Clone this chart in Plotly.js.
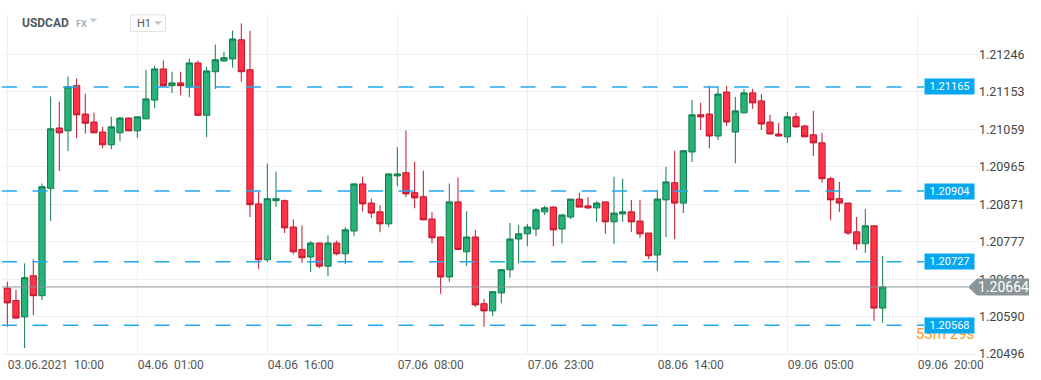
<!DOCTYPE html>
<html><head><meta charset="utf-8">
<script src="https://cdn.plot.ly/plotly-3.0.1.min.js"></script>
<style>html,body{margin:0;padding:0;background:#fff}#chart{width:1041px;height:380px}</style>
</head><body><div id="chart"></div>
<script>
// USDCAD H1 candles, 03.06.2021 10:00 .. 09.06.2021 16:00
const openP = [1.20661,1.20630,1.20589,1.20692,1.20642,1.20911,1.21062,1.21055,1.21168,1.21097,
1.21077,1.21052,1.21020,1.21050,1.21087,1.21055,1.21085,1.21132,1.21210,1.21168,
1.21175,1.21165,1.21225,1.21094,1.21203,1.21230,1.21235,1.21283,1.21208,1.20872,
1.20732,1.20880,1.20880,1.20814,1.20758,1.20739,1.20774,1.20716,1.20774,1.20747,
1.20804,1.20922,1.20874,1.20852,1.20822,1.20942,1.20950,1.20900,1.20890,1.20834,
1.20789,1.20689,1.20877,1.20752,1.20789,1.20622,1.20604,1.20649,1.20707,1.20784,
1.20797,1.20809,1.20852,1.20864,1.20809,1.20839,1.20884,1.20867,1.20862,1.20877,
1.20827,1.20847,1.20852,1.20829,1.20799,1.20744,1.20882,1.20925,1.20874,1.21002,
1.21095,1.21097,1.21042,1.21152,1.21052,1.21100,1.21150,1.21130,1.21077,1.21047,
1.21040,1.21090,1.21067,1.21045,1.21025,1.20935,1.20885,1.20874,1.20802,1.20772,
1.20817,1.20611];
const highP = [1.20677,1.20657,1.20723,1.20733,1.20923,1.21141,1.21128,1.21191,1.21186,1.21148,
1.21101,1.21065,1.21090,1.21090,1.21088,1.21090,1.21208,1.21218,1.21231,1.21203,
1.21203,1.21236,1.21231,1.21216,1.21271,1.21253,1.21306,1.21324,1.21306,1.20902,
1.20973,1.20953,1.20883,1.20833,1.20818,1.20778,1.20775,1.20793,1.20780,1.20814,
1.20923,1.20940,1.20885,1.20869,1.20948,1.21014,1.21056,1.20978,1.20955,1.20851,
1.20790,1.20923,1.20938,1.20853,1.20807,1.20634,1.20653,1.20707,1.20824,1.20819,
1.20822,1.20862,1.20867,1.20867,1.20847,1.20884,1.20900,1.20889,1.20879,1.20877,
1.20940,1.20935,1.20882,1.20882,1.20799,1.20907,1.20965,1.21005,1.21007,1.21132,
1.21125,1.21168,1.21165,1.21168,1.21140,1.21160,1.21160,1.21147,1.21095,1.21075,
1.21102,1.21100,1.21070,1.21105,1.21050,1.20940,1.20927,1.20875,1.20839,1.20859,
1.20818,1.20742];
const lowP = [1.20564,1.20584,1.20511,1.20593,1.20631,1.20829,1.20954,1.21004,1.21036,1.21048,
1.21049,1.21011,1.21009,1.21029,1.21054,1.21037,1.21084,1.21112,1.21165,1.21150,
1.21144,1.21139,1.21092,1.21039,1.21160,1.21228,1.21213,1.21178,1.20839,1.20709,
1.20726,1.20864,1.20799,1.20746,1.20724,1.20701,1.20711,1.20691,1.20743,1.20721,
1.20791,1.20853,1.20836,1.20801,1.20814,1.20916,1.20889,1.20861,1.20831,1.20773,
1.20647,1.20677,1.20757,1.20716,1.20614,1.20564,1.20591,1.20623,1.20687,1.20724,
1.20766,1.20791,1.20844,1.20766,1.20773,1.20834,1.20864,1.20859,1.20827,1.20797,
1.20772,1.20827,1.20802,1.20787,1.20734,1.20704,1.20789,1.20784,1.20849,1.20977,
1.21057,1.21011,1.21032,1.21067,1.20974,1.21099,1.21110,1.21057,1.21046,1.21041,
1.21025,1.21062,1.21039,1.20992,1.20925,1.20831,1.20852,1.20794,1.20757,1.20749,
1.20579,1.20574];
const closeP = [1.20624,1.20586,1.20687,1.20642,1.20915,1.21060,1.21050,1.21165,1.21095,1.21074,
1.21050,1.21020,1.21065,1.21087,1.21055,1.21090,1.21135,1.21210,1.21168,1.21175,
1.21168,1.21225,1.21094,1.21205,1.21233,1.21238,1.21285,1.21203,1.20870,1.20732,
1.20885,1.20885,1.20812,1.20752,1.20737,1.20774,1.20716,1.20774,1.20747,1.20807,
1.20922,1.20872,1.20849,1.20822,1.20947,1.20947,1.20897,1.20887,1.20832,1.20787,
1.20689,1.20877,1.20758,1.20789,1.20619,1.20604,1.20652,1.20707,1.20784,1.20797,
1.20814,1.20857,1.20862,1.20807,1.20844,1.20884,1.20864,1.20862,1.20874,1.20827,
1.20849,1.20852,1.20827,1.20797,1.20742,1.20884,1.20927,1.20874,1.21005,1.21095,
1.21090,1.21042,1.21147,1.21077,1.21105,1.21150,1.21125,1.21072,1.21047,1.21042,
1.21090,1.21065,1.21040,1.21025,1.20935,1.20882,1.20874,1.20799,1.20772,1.20817,
1.20611,1.20664];

const xTickIdx = [0, 15, 30, 45, 60, 75, 90, 105];
const xTickLabels = ['03.06.2021\u00a0\u00a010:00','04.06\u00a0\u00a001:00','04.06\u00a0\u00a016:00','07.06\u00a0\u00a008:00',
                     '07.06\u00a0\u00a023:00','08.06\u00a0\u00a014:00','09.06\u00a0\u00a005:00','09.06\u00a0\u00a020:00'];
const yTickVals = [1.21246, 1.21153, 1.21059, 1.20965, 1.20871, 1.20777, 1.20683, 1.20590, 1.20496];
const levels = [1.21165, 1.20904, 1.20727, 1.20568];
const lastPrice = 1.20664;
const countdown = '53m 29s';
const symbol = 'USDCAD';
const market = 'FX';
const timeframe = 'H1';

const xIdx = openP.map((_, i) => i);

// layout geometry
const W = 1041, H = 380;
const M = {l: 2, r: 63, t: 15, b: 26};
const plotW = W - M.l - M.r, plotH = H - M.t - M.b;
const px2paperX = px => (px - M.l) / plotW;
const px2paperY = py => (H - M.b - py) / plotH;

const trace = {
  type: 'candlestick',
  x: xIdx, open: openP, high: highP, low: lowP, close: closeP,
  increasing: {line: {color: '#0f7a4b', width: 1}, fillcolor: '#27b279'},
  decreasing: {line: {color: '#c0152c', width: 1}, fillcolor: '#ff3347'},
  whiskerwidth: 0,
  hoverinfo: 'skip',
  showlegend: false
};

const shapes = [];
levels.forEach(v => shapes.push({
  type: 'line', layer: 'above', xref: 'paper', yref: 'y',
  x0: 0, x1: px2paperX(924), y0: v, y1: v,
  line: {color: '#22a8ee', width: 1.5, dash: '15px,15.5px'}
}));
shapes.push({
  type: 'line', layer: 'above', xref: 'paper', yref: 'y',
  x0: 0, x1: px2paperX(968), y0: lastPrice, y1: lastPrice,
  line: {color: '#8a9599', width: 1}
});
// grey price tag
shapes.push({
  type: 'path', layer: 'above', xref: 'paper', yref: 'y',
  xsizemode: 'pixel', ysizemode: 'pixel', xanchor: px2paperX(968), yanchor: lastPrice,
  path: 'M 0 0 L 9 8.5 L 61 8.5 L 61 -8.5 L 9 -8.5 Z',
  fillcolor: '#8a9599', line: {width: 0}
});
// H1 box
shapes.push({
  type: 'rect', layer: 'above', xref: 'paper', yref: 'paper',
  xsizemode: 'pixel', ysizemode: 'pixel', xanchor: px2paperX(130.5), yanchor: px2paperY(23.2),
  x0: 0, x1: 35, y0: -8.3, y1: 8.3,
  fillcolor: '#ffffff', line: {color: '#e2e2e2', width: 1}
});
// carets
shapes.push({
  type: 'path', layer: 'above', xref: 'paper', yref: 'paper',
  xsizemode: 'pixel', ysizemode: 'pixel', xanchor: px2paperX(158), yanchor: px2paperY(23.3),
  path: 'M -4 2 L 4 2 L 0 -2 Z', fillcolor: '#c9c9c9', line: {width: 0}
});
shapes.push({
  type: 'path', layer: 'above', xref: 'paper', yref: 'paper',
  xsizemode: 'pixel', ysizemode: 'pixel', xanchor: px2paperX(93.5), yanchor: px2paperY(20.5),
  path: 'M -4 2 L 4 2 L 0 -2 Z', fillcolor: '#c3ccd4', line: {width: 0}
});

const annotations = [];
annotations.push({
  text: countdown, xref: 'paper', yref: 'paper', x: px2paperX(914), y: px2paperY(334),
  xanchor: 'left', yanchor: 'middle', showarrow: false,
  font: {family: 'Roboto', size: 15, color: '#ff9a1e'}
});
levels.forEach(v => annotations.push({
  text: v.toFixed(5), xref: 'paper', yref: 'y', x: px2paperX(924), y: v,
  xanchor: 'left', yanchor: 'middle', showarrow: false,
  bgcolor: '#05a8f0', borderpad: 2, width: 45, height: 11, align: 'center',
  font: {family: 'Roboto', size: 11, color: '#ffffff'}
}));
annotations.push({
  text: lastPrice.toFixed(5), xref: 'paper', yref: 'y', x: px2paperX(1003), y: lastPrice,
  xanchor: 'center', yanchor: 'middle', showarrow: false,
  font: {family: 'Roboto', size: 14, color: '#ffffff'}
});
annotations.push({
  text: '<b>' + symbol + '</b>', xref: 'paper', yref: 'paper', x: px2paperX(19.5), y: px2paperY(22.5),
  xanchor: 'left', yanchor: 'middle', showarrow: false,
  font: {family: 'Roboto', size: 12, color: '#4f5a64'}
});
annotations.push({
  text: '<b>' + market + '</b>', xref: 'paper', yref: 'paper', x: px2paperX(73.5), y: px2paperY(24),
  xanchor: 'left', yanchor: 'middle', showarrow: false,
  font: {family: 'Roboto', size: 9, color: '#a5b2bd'}
});
annotations.push({
  text: timeframe, xref: 'paper', yref: 'paper', x: px2paperX(135), y: px2paperY(23.3),
  xanchor: 'left', yanchor: 'middle', showarrow: false,
  font: {family: 'Roboto', size: 11, color: '#555'}
});

const layout = {
  width: W, height: H, margin: M,
  paper_bgcolor: '#ffffff', plot_bgcolor: '#ffffff',
  boxgap: 0.28, boxgroupgap: 0,
  showlegend: false, hovermode: false, dragmode: false,
  xaxis: {
    range: [(M.l - 7.3) / 8.667, (W - M.r - 7.3) / 8.667],
    tickmode: 'array', tickvals: xTickIdx, ticktext: xTickLabels,
    ticklabelposition: 'outside right', ticks: '',
    showgrid: true, gridcolor: '#efefef', gridwidth: 1,
    zeroline: false, showline: true, linecolor: '#ececec', linewidth: 1,
    rangeslider: {visible: false}, fixedrange: true,
    tickfont: {family: 'Roboto', size: 12, color: '#555'}
  },
  yaxis: {
    side: 'right',
    range: [1.20496, 1.20496 + plotH * 2.5047e-5],
    tickmode: 'array', tickvals: yTickVals, ticktext: yTickVals.map(v => v.toFixed(5)),
    ticks: '', showgrid: true, gridcolor: '#efefef', gridwidth: 1,
    zeroline: false, showline: false, fixedrange: true,
    tickfont: {family: 'Roboto', size: 12.5, color: '#444'}
  },
  shapes: shapes,
  annotations: annotations
};

Plotly.newPlot('chart', [trace], layout, {displayModeBar: false, staticPlot: true});
</script>
</body></html>
